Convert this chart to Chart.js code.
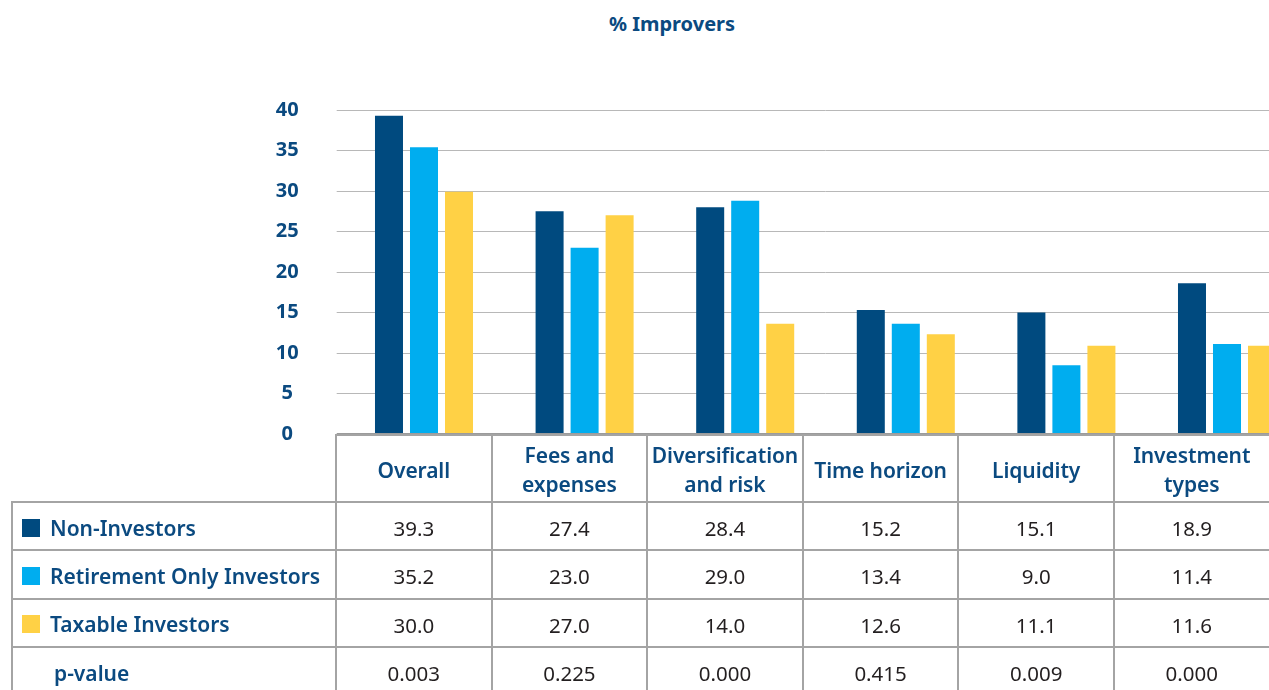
<!DOCTYPE html>
<html>
<head>
<meta charset="utf-8">
<script src="https://cdn.jsdelivr.net/npm/chart.js@4.4.1/dist/chart.umd.min.js"></script>
<style>
  html, body { margin: 0; padding: 0; background: #fff; overflow: hidden; width: 1269px; height: 690px; }
  body { position: relative; font-family: "Noto Sans", sans-serif; }
  #title { position: absolute; top: 10px; left: 572px; width: 200px; text-align: center;
           font-weight: 700; font-size: 20px; line-height: 28px; color: #0b4a80; }
  #chart { position: absolute; left: 0; top: 0; }
  #tbl { position: absolute; left: 11px; top: 434px; display: grid;
         grid-template-columns: 326px repeat(6, 155.6px);
         grid-template-rows: 69px 48px 48.5px 48.5px 48px; }
  #tbl div { box-sizing: border-box; border-right: 2px solid #a4a4a4; border-bottom: 2px solid #a4a4a4;
             display: flex; align-items: center; }
  #tbl .hd { border-top: 2px solid #a4a4a4; justify-content: center; text-align: center; padding-top: 3px;
             color: #0b4a80; font-weight: 600; font-size: 21px; line-height: 29px; letter-spacing: -0.1px; }
  #tbl .corner { border-bottom: 2px solid #a4a4a4; }
  #tbl .lab { border-left: 2px solid #a4a4a4; color: #0b4a80; font-weight: 600; font-size: 21px;
              padding-left: 9px; padding-top: 3px; }
  #tbl .num { justify-content: center; color: #231f20; font-size: 20.5px; padding-top: 4px; }
  .sw { display: inline-block; width: 18px; height: 18px; margin-right: 10px; }
</style>
</head>
<body>
<div id="title">% Improvers</div>
<canvas id="chart" width="1310" height="484"></canvas>
<div id="tbl"></div>
<script>
// categories + series (bar heights)
const categories = ["Overall", "Fees and expenses", "Diversification and risk", "Time horizon", "Liquidity", "Investment types"];
const headerLines = [["Overall"], ["Fees and", "expenses"], ["Diversification", "and risk"], ["Time horizon"], ["Liquidity"], ["Investment", "types"]];
const seriesNames = ["Non-Investors", "Retirement Only Investors", "Taxable Investors"];
const seriesColors = ["#004a7f", "#00adef", "#ffd145"];

const nonInvestors = [39.3, 27.5, 28.0, 15.3, 15.0, 18.6];
const retirementOnly = [35.4, 23.0, 28.8, 13.6, 8.5, 11.1];
const taxable = [29.9, 27.0, 13.6, 12.3, 10.9, 10.9];

// table text
const tableNonInvestors = ["39.3", "27.4", "28.4", "15.2", "15.1", "18.9"];
const tableRetirement = ["35.2", "23.0", "29.0", "13.4", "9.0", "11.4"];
const tableTaxable = ["30.0", "27.0", "14.0", "12.6", "11.1", "11.6"];
const pValues = ["0.003", "0.225", "0.000", "0.415", "0.009", "0.000"];

const yTicks = [0, 5, 10, 15, 20, 25, 30, 35, 40];

// === chart ===
const seriesData = [nonInvestors, retirementOnly, taxable];
new Chart(document.getElementById("chart"), {
  type: "bar",
  data: {
    labels: categories,
    datasets: seriesNames.map((name, i) => ({
      label: name,
      data: seriesData[i],
      backgroundColor: seriesColors[i]
    }))
  },
  options: {
    responsive: false,
    animation: false,
    devicePixelRatio: 1,
    // tick padding (38) + half label height ends up as bottom padding, so canvas is taller
    layout: { padding: { top: 110, bottom: 50, left: 263.7, right: 2.7 } },
    plugins: { legend: { display: false }, tooltip: { enabled: false } },
    datasets: { bar: { categoryPercentage: 0.654, barPercentage: 0.8 } },
    scales: {
      x: { display: false },
      y: {
        min: 0,
        max: 40,
        afterBuildTicks: s => { s.ticks = yTicks.map(v => ({ value: v })); },
        afterFit: s => { s.width = 80; },
        border: { display: false },
        grid: {
          color: c => (c.tick && c.tick.value === 0 ? "#9b9b9b" : "#b8b8b8"),
          lineWidth: c => (c.tick && c.tick.value === 0 ? 2 : 1),
          tickLength: 7
        },
        ticks: {
          color: "#0b4a80",
          font: { family: "Noto Sans", size: 20, weight: "bold" },
          crossAlign: "center",
          padding: 38
        }
      }
    }
  }
});

// === table under the chart ===
const tbl = document.getElementById("tbl");
let html = '<div class="corner"></div>';
headerLines.forEach(lines => { html += '<div class="hd">' + lines.join("<br>") + "</div>"; });
const rows = [tableNonInvestors, tableRetirement, tableTaxable];
rows.forEach((vals, i) => {
  html += '<div class="lab"><span class="sw" style="background:' + seriesColors[i] + '"></span>' + seriesNames[i] + "</div>";
  vals.forEach(v => { html += '<div class="num">' + v + "</div>"; });
});
html += '<div class="lab" style="padding-left:41px">p-value</div>';
pValues.forEach(v => { html += '<div class="num">' + v + "</div>"; });
tbl.innerHTML = html;
</script>
</body>
</html>
